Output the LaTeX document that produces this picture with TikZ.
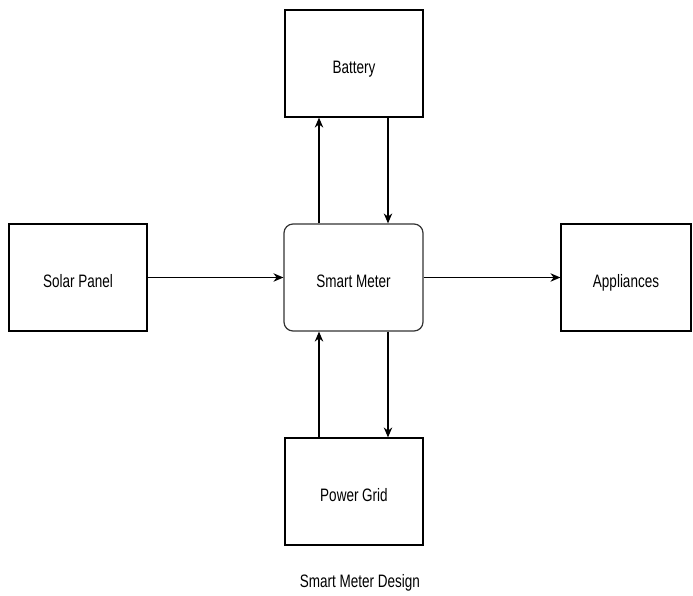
\documentclass[tikz,border=0pt]{standalone}
\usepackage{fontspec}
\setmainfont{Liberation Sans}[FakeStretch=0.75]
\usetikzlibrary{arrows.meta}
\tikzset{
  blockbox/.style={draw, line width=1.2pt, minimum width=138pt, minimum height=107pt, inner sep=0pt, text height=20pt, text depth=1pt, font=\fontsize{18}{20}\selectfont},
  meterbox/.style={blockbox, rounded corners=9pt, minimum width=139pt, draw=black!80},
  flowline/.style={line width=1.1pt, -{Stealth[length=10pt,width=8.5pt]}},
}

\begin{document}
\begin{tikzpicture}[x=1pt,y=1pt]
\useasboundingbox (0,0) rectangle (693,-595);
\node[blockbox] (battery) at (354,-63.5) {Battery};
\node[meterbox] (meter) at (353.5,-277.5) {Smart Meter};
\node[blockbox] (grid) at (354,-491.5) {Power Grid};
\node[blockbox] (solar) at (78,-277.5) {Solar Panel};
\node[blockbox, minimum width=130pt] (appl) at (626,-277.5) {Appliances};
\node[font=\fontsize{18}{20}\selectfont] (caption) at (360,-583) {Smart Meter Design};
\draw[flowline] (solar.east) -- (meter.west);
\draw[flowline] (meter.east) -- (appl.west);
\draw[flowline] ([xshift=-34.5pt]meter.north) -- ([xshift=-35pt]battery.south);
\draw[flowline] ([xshift=34pt]battery.south) -- ([xshift=34.5pt]meter.north);
\draw[flowline] ([xshift=34.5pt]meter.south) -- ([xshift=34pt]grid.north);
\draw[flowline] ([xshift=-35pt]grid.north) -- ([xshift=-34.5pt]meter.south);
\end{tikzpicture}
\end{document}
